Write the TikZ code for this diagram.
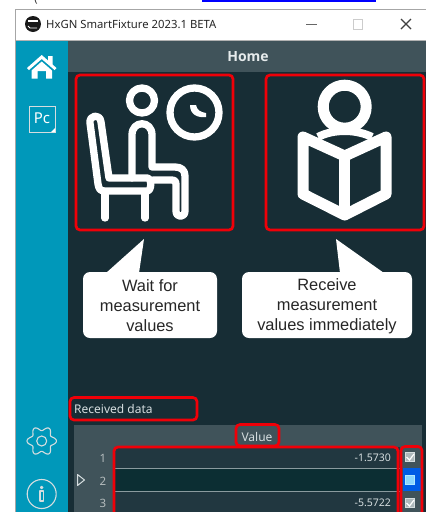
\documentclass[tikz,border=0pt]{standalone}
\usepackage{fontspec}
\setmainfont{Noto Sans}
\newfontfamily\callfont{Liberation Sans}
\newfontfamily\headfont{Open Sans}
\definecolor{sidebar}{HTML}{0098BA}
\definecolor{darkbg}{HTML}{172D35}
\definecolor{headbar}{HTML}{40535A}
\definecolor{rowbg}{HTML}{213740}
\definecolor{rowsel}{HTML}{0C2E33}
\definecolor{markred}{HTML}{F00008}
\definecolor{softtext}{HTML}{D5DDDF}
\definecolor{gridline}{HTML}{8A9A9E}
\tikzset{
  redbox/.style={draw=markred,line width=2.7pt,rounded corners=4pt},
  icon/.style={draw=white,line width=7.3pt,line cap=round,line join=round},
  bookicon/.style={draw=white,line width=11pt,line join=round},
  sideicon/.style={draw=softtext,line width=1.1pt,line join=round},
  callout/.style={fill=white,rounded corners=7pt},
  calltext/.style={font=\callfont\fontsize{16.4}{20}\selectfont,align=center,text=black!85},
  uitext/.style={font=\fontsize{12}{14}\selectfont,text=softtext},
  rownum/.style={font=\fontsize{11.5}{14}\selectfont,text=softtext!85!black},
  valtext/.style={font=\fontsize{10.5}{14}\selectfont,text=softtext,anchor=east},
  checkbox/.style={draw=softtext,fill=gridline!70!white,line width=0.6pt,minimum size=9pt,inner sep=0pt},
}
\begin{document}
\begin{tikzpicture}[x=1pt,y=-1pt]
\useasboundingbox (0,0) rectangle (426,512);
\fill[white] (0,0) rectangle (426,512);
\clip (0,0) rectangle (426,512);
% page remnants
\fill[blue] (202,0) rectangle (376,2);
\node[font=\fontsize{11}{12}\selectfont,text=black!80] (paren) at (36,-1) {(};
% window
\draw[gray!70,line width=1pt] (15.5,513) -- (15.5,9.5) -- (427,9.5);
\fill[sidebar] (16,41) rectangle (68,512);
\fill[darkbg] (68,41) rectangle (426,512);
\fill[headbar] (68,41) rectangle (426,72);
\draw[gray!60,line width=0.8pt] (16,40.5) -- (426,40.5);
% title bar
\fill[black!90] (33,24) circle (8);
\fill[white] (28,20) rectangle (38,22);
\draw[white,line width=0.9pt] (28,26) -- (30,28) -- (37,28);
\node[anchor=west,inner sep=0pt,font=\fontsize{11.3}{14}\selectfont,text=black!85] (title) at (46,24.5) {HxGN SmartFixture 2023.1 BETA};
\draw[black!60,line width=1pt] (306,24.5) -- (317,24.5);
\draw[black!20,line width=1pt] (353,19.5) rectangle (362,29);
\draw[black!75,line width=1.1pt] (401,19) -- (411,29) (411,19) -- (401,29);
\node[font=\headfont\bfseries\fontsize{14}{16}\selectfont,text=softtext!60!white] (home) at (248,57) {Home};
% sidebar icons
\fill[white] (41.7,55) -- (48,60.5) -- (48,56) -- (52.5,56) -- (52.5,64.5) -- (56.5,68) -- (54.5,70) -- (41.7,59) -- (29,70) -- (27,68) -- cycle;
\fill[white] (41.7,61.5) -- (52,70.5) -- (52,78.5) -- (46,78.5) -- (46,71) -- (37.5,71) -- (37.5,78.5) -- (31.5,78.5) -- (31.5,70.5) -- cycle;
\draw[softtext,line width=1pt] (29,106) rectangle (55,132);
\fill[white] (55,132) -- (51,132) -- (55,128) -- cycle;
\node[font=\fontsize{15}{16}\selectfont,text=white,inner sep=0pt] (pc) at (42,118.5) {Pc};
\draw[sideicon] plot[domain=0:360,samples=121,smooth] ({41.7+(12.5+2.2*cos(6*\x))*cos(\x)},{441+(12.5+2.2*cos(6*\x))*sin(\x)}) -- cycle;
\draw[sideicon] (41.7,441) circle (5);
\draw[sideicon] (41.7,494) circle (14.5);
\draw[sideicon] (40,491) rectangle (43.5,501);
\draw[sideicon] (41.7,487.5) circle (1.2);
% seated person with clock
\draw[redbox] (76,75) rectangle (233,230);
\draw[icon] (142,100.5) circle (12.5);
\draw[icon] (194.5,112.5) circle (24.5);
\fill[white] (190,105) -- (196,105) .. controls (197,110) and (200,112) .. (206,113) -- (206,117) .. controls (198,118) and (190,115) .. (190,105) -- cycle;
\draw[icon] (90,123) .. controls (89,115) and (100,113) .. (101,122) -- (109,178) -- (147,178) .. controls (152,178) and (152,191) .. (147,191) -- (105,191) .. controls (100,191) and (99,189) .. (98,184) -- cycle;
\draw[icon] (105,192) -- (105,218);
\draw[icon] (145,192) -- (145,218);
\draw[icon] (132,178) -- (132,135) .. controls (132,120) and (152,120) .. (152,135) -- (152,167) -- (175,167) .. controls (181,167) and (185,170) .. (185,176) -- (185,211) .. controls (185,218) and (176,218) .. (176,211) -- (176,185) .. controls (176,181) and (175,180) .. (171,180) -- (153,180);
% reading person
\draw[redbox] (266,75) rectangle (424,230);
\draw[bookicon] (344.7,106.7) circle (21.5);
\draw[bookicon] (303,137) -- (344.7,156) -- (386,137) -- (386,194) -- (344.7,215) -- (303,194) -- cycle;
\draw[bookicon] (344.7,156) -- (344.7,212);
\draw[white,line width=8pt] (318,137) .. controls (333,129) and (356,129) .. (372,137);
% callouts
\fill[callout] (83,272) rectangle (217,338);
\fill[white] (106,273) -- (144,239) -- (139,273) -- cycle;
\node[calltext] (waitlabel) at (150,305.5) {Wait for\\measurement\\values};
\fill[callout] (242,272) rectangle (412,338);
\fill[white] (340,273) -- (336,239) -- (384,273) -- cycle;
\node[calltext] (recvlabel) at (327,306) {Receive\\measurement\\values immediately};
% received data
\node[uitext,anchor=west,inner sep=0pt] (received) at (74,408.5) {Received data};
\draw[redbox] (70,397.5) rectangle (197,420);
% table
\fill[headbar] (74,425) rectangle (422,512);
\fill[rowbg] (115,447) rectangle (400,512);
\fill[rowsel] (115,469) rectangle (400,491);
\fill[headbar] (400,447) rectangle (422,512);
\draw[gridline,line width=1pt] (115,468) -- (400,468) (115,491.5) -- (400,491.5);
\node[uitext] (valuehead) at (257,436.5) {Value};
\node[rownum] (r1) at (103,458) {1};
\node[rownum] (r2) at (103,481) {2};
\node[rownum] (r3) at (103,503) {3};
\draw[softtext,line width=1pt,line join=round] (77.5,474.5) -- (84.5,480) -- (77.5,485.5) -- cycle;
\node[valtext] (v1) at (394.5,458) {-1.5730};
\node[valtext] (v3) at (394.5,503) {-5.5722};
\fill[blue!60!cyan!90!black] (403,468) rectangle (421,491);
\node[checkbox] (c1) at (410,457) {};
\draw[white,line width=1.2pt] (406.5,457) -- (409.5,460) -- (414,454);
\node[checkbox,fill=blue!35!cyan!45!white,draw=blue!30!cyan!30!white] (c2) at (410,479.5) {};
\node[checkbox] (c3) at (410,503) {};
\draw[white,line width=1.2pt] (406.5,503) -- (409.5,506) -- (414,500);
% red highlight boxes on table
\draw[redbox] (236,424.5) rectangle (279,446);
\draw[redbox] (114,447) rectangle (398,525);
\draw[redbox] (401,446.5) rectangle (422,525);
\end{tikzpicture}
\end{document}
